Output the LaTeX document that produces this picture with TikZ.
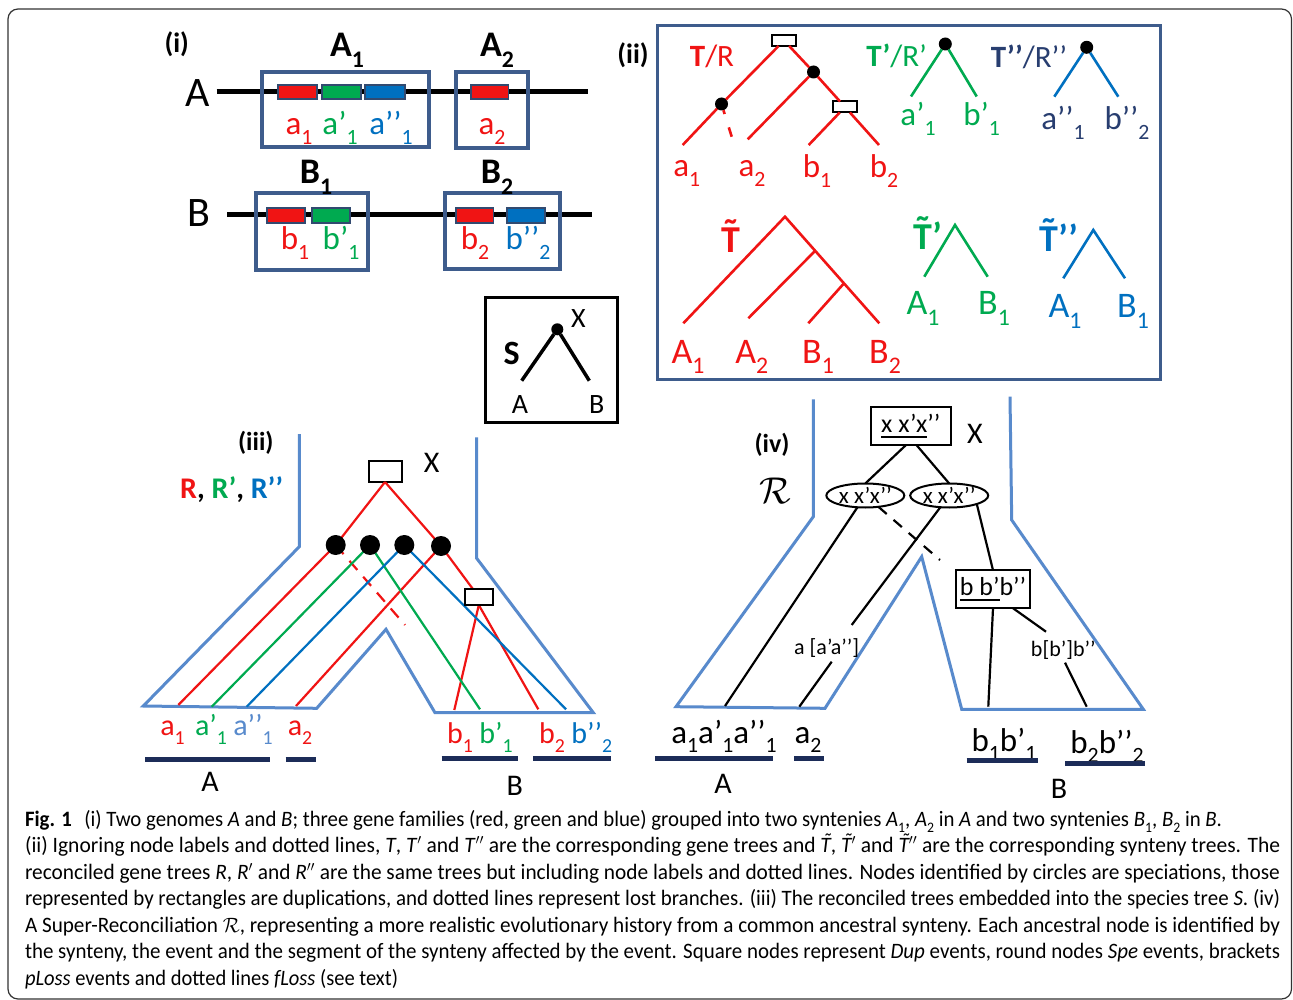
\documentclass[tikz,border=0pt]{standalone}
\usepackage{fontspec}
\setmainfont{Carlito}
\newfontfamily\capfont{Carlito}
\usetikzlibrary{shapes.geometric}
\definecolor{rd}{RGB}{240,20,20}
\definecolor{gr}{RGB}{0,170,80}
\definecolor{bl}{RGB}{0,112,192}
\definecolor{nv}{RGB}{40,62,112}
\definecolor{slate}{RGB}{62,92,140}
\definecolor{sp}{RGB}{88,138,204}
\definecolor{ulc}{RGB}{28,44,88}
\newcommand{\sbs}[1]{\raisebox{-0.3em}{\scalebox{0.66}{#1}}}
\newcommand{\ulx}[1]{\setbox0\hbox{#1}\rlap{\rule[-5pt]{\wd0}{1.8pt}}\box0}
\newcommand{\tld}[1]{\ooalign{#1\cr\hidewidth\raisebox{0.2em}{\char"02DC}\hidewidth\cr}}
\newcommand{\tldi}[1]{\ooalign{#1\cr\hidewidth\raisebox{0.2em}{\char"02DC}\hidewidth\kern-0.15em\cr}}
\newlength{\capw}
\newcommand{\capline}[2]{\settowidth{\capw}{#2}\pgfmathsetmacro{\capsx}{#1/\capw}\scalebox{\capsx}[1]{#2}}
\begin{document}
\begin{tikzpicture}[x=1pt,y=-1pt,
  every node/.style={inner sep=0pt,outer sep=0pt},
  txt/.style={anchor=base,font=\fontsize{#1}{#1}\selectfont},
  btxt/.style={anchor=base,font=\fontsize{#1}{#1}\selectfont\bfseries},
  ctxt/.style={anchor=center,font=\fontsize{#1}{#1}\selectfont},
  synbox/.style={draw=slate,line width=4pt},
  gene/.style={draw=slate!80!black,line width=1.6pt},
  genome/.style={line width=5pt},
  tree/.style={line width=2.6pt},
  gline/.style={line width=2.2pt},
  spe/.style={circle,fill=black,minimum size=#1},
  dupbox/.style={draw,fill=white,line width=2pt},
  outline/.style={draw=sp,line width=3pt,line join=miter},
  ulbar/.style={draw=ulc,line width=4.5pt},
  capstyle/.style={anchor=base west,font=\capfont\fontsize{22}{26}\selectfont},
  elnode/.style={draw,ellipse,line width=2pt,fill=white,minimum width=78pt,minimum height=24pt,font=\fontsize{23}{23}\selectfont}
]
\fill[white] (0,0) rectangle (1293,1000);
\useasboundingbox (0,0) rectangle (1293,1000);
\draw[line width=1.2pt,black!80,rounded corners=10pt] (8,9) rectangle (1291.5,999);

% ---------------- (i)
\node[btxt=28] (lbi) at (176.7,53) {(i)};
\node[txt=42] (gA) at (198,106.7) {A};
\draw[genome] (216.7,91.5) -- (588,91.5);
\draw[synbox] (261.7,71.7) rectangle (429.3,146.7);
\draw[synbox] (456,71.7) rectangle (527.7,148.3);
\draw[gene,fill=rd] (277.7,85) rectangle (316.7,99);
\draw[gene,fill=gr] (321.7,85) rectangle (360.7,99);
\draw[gene,fill=bl] (365,85) rectangle (405,99);
\draw[gene,fill=rd] (471,85) rectangle (508.3,99);
\node[btxt=36] (hA1) at (347,57) {A\sbs{1}};
\node[btxt=36] (hA2) at (497,57) {A\sbs{2}};
\node[txt=33,rd] (ia1) at (299,135) {a\sbs{1}};
\node[txt=33,gr] (ia1p) at (340,135) {a’\sbs{1}};
\node[txt=33,bl] (ia1pp) at (391,135) {a’’\sbs{1}};
\node[txt=33,rd] (ia2) at (492,135) {a\sbs{2}};

\node[txt=42] (gB) at (199,226.7) {B};
\draw[genome] (227,215) -- (591.7,215);
\draw[synbox] (256,193.3) rectangle (368.3,270);
\draw[synbox] (444.7,193.3) rectangle (560,269.3);
\draw[gene,fill=rd] (266.7,208.3) rectangle (305,223);
\draw[gene,fill=gr] (311.7,208.3) rectangle (350,223);
\draw[gene,fill=rd] (456,208.3) rectangle (493.3,223);
\draw[gene,fill=bl] (506.7,208.3) rectangle (545,223);
\node[btxt=36] (hB1) at (316,184) {B\sbs{1}};
\node[btxt=36] (hB2) at (497,184) {B\sbs{2}};
\node[txt=33,rd] (ib1) at (295,250) {b\sbs{1}};
\node[txt=33,gr] (ib1p) at (341,250) {b’\sbs{1}};
\node[txt=33,rd] (ib2) at (475,250) {b\sbs{2}};
\node[txt=33,bl] (ib2pp) at (528,250) {b’’\sbs{2}};

% ---------------- (ii)
\node[btxt=28] (lbii) at (633,64) {(ii)};
\draw[draw=slate,line width=3pt] (657.3,26) rectangle (1160,379.3);
\node[txt=31,rd] (tR) at (712,67) {\textbf{T}/R};
\node[txt=31,gr] (tRp) at (896.7,67) {\textbf{T’}/R’};
\node[txt=31,nv] (tRpp) at (1029,68) {\textbf{T’’}/R’’};

\node[dupbox,minimum width=24pt,minimum height=11pt] (rR) at (784,40.5) {};
\node[spe=13pt] (s1) at (721.5,104) {};
\node[spe=13pt] (s2) at (813.5,72) {};
\node[dupbox,minimum width=24pt,minimum height=11pt] (d2) at (845,107) {};
\coordinate (la1) at (682.7,145);
\coordinate (la2) at (747.7,139.3);
\coordinate (lb1) at (808.7,145);
\coordinate (lb2) at (879,145);
\coordinate (ldash) at (731.7,136.7);
\draw[tree,rd] (rR) -- (s1) -- (la1);
\draw[tree,rd] (rR) -- (s2) -- (d2) -- (lb2);
\draw[tree,rd] (s2) -- (la2);
\draw[tree,rd] (d2) -- (lb1);
\draw[tree,rd,dash pattern=on 4pt off 14pt on 10pt off 20pt] (s1) -- (ldash);

\node[spe=13pt] (gs) at (945.3,44) {};
\coordinate (ga1) at (911,96.5);
\coordinate (gb1) at (976.7,96.5);
\draw[tree,gr] (gs) -- (ga1);
\draw[tree,gr] (gs) -- (gb1);
\node[spe=13pt] (bs) at (1086.7,47.3) {};
\coordinate (ba1) at (1054.3,96.7);
\coordinate (bb2) at (1118.3,96.7);
\draw[tree,bl] (bs) -- (ba1);
\draw[tree,bl] (bs) -- (bb2);

\node[txt=33,rd] (la1t) at (686.7,177) {a\sbs{1}};
\node[txt=33,rd] (la2t) at (752,177) {a\sbs{2}};
\node[txt=33,rd] (lb1t) at (817,178) {b\sbs{1}};
\node[txt=33,rd] (lb2t) at (884,178) {b\sbs{2}};
\node[txt=33,gr] (ga1t) at (918,126) {a’\sbs{1}};
\node[txt=33,gr] (gb1t) at (981.7,126) {b’\sbs{1}};
\node[txt=33,nv] (ba1t) at (1063,130) {a’’\sbs{1}};
\node[txt=33,nv] (bb2t) at (1127,130) {b’’\sbs{2}};

% synteny trees
\coordinate (sr) at (785,216.7);
\coordinate (sA1) at (683.3,323.3);
\coordinate (sB2) at (879.3,323.3);
\coordinate (sn1) at (815,251);
\coordinate (sn2) at (844,283.3);
\coordinate (sA2) at (748.3,318.3);
\coordinate (sB1) at (808.3,323.3);
\draw[tree,rd] (sA1) -- (sr) -- (sB2);
\draw[tree,rd] (sA2) -- (sn1);
\draw[tree,rd] (sB1) -- (sn2);
\coordinate (gr0) at (955,225);
\coordinate (grA) at (924.3,276.7);
\coordinate (grB) at (987.7,276.7);
\draw[tree,gr] (grA) -- (gr0) -- (grB);
\coordinate (bl0) at (1093.3,230);
\coordinate (blA) at (1063.3,278.3);
\coordinate (blB) at (1125,278.3);
\draw[tree,bl] (blA) -- (bl0) -- (blB);

\node[btxt=38,rd] (tt) at (730.8,253) {\tld{T}};
\node[btxt=38,gr] (ttp) at (927.5,250) {\tld{T}’};
\node[btxt=38,bl] (ttpp) at (1059,251.7) {\tld{T}’’};

\node[txt=36,rd] (sA1t) at (688,363) {A\sbs{1}};
\node[txt=36,rd] (sA2t) at (751.7,363) {A\sbs{2}};
\node[txt=36,rd] (sB1t) at (818,363) {B\sbs{1}};
\node[txt=36,rd] (sB2t) at (885,363) {B\sbs{2}};
\node[txt=36,gr] (grAt) at (923,315) {A\sbs{1}};
\node[txt=36,gr] (grBt) at (994,315) {B\sbs{1}};
\node[txt=36,bl] (blAt) at (1065,318) {A\sbs{1}};
\node[txt=36,bl] (blBt) at (1133,318) {B\sbs{1}};

% ---------------- species tree S
\draw[line width=3pt] (485,297.3) rectangle (617.7,422.7);
\node[spe=12pt] (sX) at (557.3,329.3) {};
\coordinate (sAl) at (521.7,380.7);
\coordinate (sBl) at (589.3,380.7);
\draw[line width=3.5pt] (sX) -- (sAl);
\draw[line width=3.5pt] (sX) -- (sBl);
\node[ctxt=28] (sXt) at (578.3,318.3) {X};
\node[ctxt=34,font=\fontsize{34}{34}\selectfont\bfseries] (sSt) at (511.7,353) {S};
\node[ctxt=28] (sAt) at (520,405) {A};
\node[ctxt=28] (sBt) at (596.7,405) {B};

% ---------------- (iii)
\node[ctxt=26,font=\fontsize{26}{26}\selectfont\bfseries] (lbiii) at (255.8,443) {(iii)};
\node[ctxt=30,font=\fontsize{30}{30}\selectfont\bfseries] (Rs) at (231.7,490) {\textcolor{rd}{R}, \textcolor{gr}{R’}, \textcolor{bl}{R’’}};
\draw[outline] (299.3,434) -- (299.3,546.7) -- (143.3,706) -- (316.7,708.3) -- (386,629.3) -- (435,712.7) -- (593.3,712.7) -- (476.7,558.3) -- (476.7,437.3);

\coordinate (c1) at (335.7,545);
\coordinate (c2) at (370,545);
\coordinate (c3) at (404.3,545);
\coordinate (c4) at (441,546);
\node[dupbox,minimum width=33pt,minimum height=21pt] (rX) at (385,471.5) {};
\node[dupbox,minimum width=28pt,minimum height=16pt] (r2) at (478.8,597) {};
\coordinate (ea1) at (178.3,705);
\coordinate (ea1p) at (211.7,706.7);
\coordinate (ea1pp) at (246.7,706.7);
\coordinate (ea2) at (296,706);
\coordinate (eb1) at (454.3,710);
\coordinate (eb1p) at (480,709.3);
\coordinate (eb2) at (538.3,709.3);
\coordinate (eb2pp) at (566,709.3);
\coordinate (elost) at (405,625);
\draw[gline,rd] (rX.south) -- (c1) -- (ea1);
\draw[gline,rd] (rX.south) -- (c4) -- (ea2);
\draw[gline,rd,dash pattern=on 12pt off 9pt] (c1) -- (elost);
\draw[gline,rd] (c4) -- (r2);
\draw[gline,rd] (r2.south) -- (eb1);
\draw[gline,rd] (r2.south) -- (eb2);
\draw[gline,gr] (ea1p) -- (c2) -- (eb1p);
\draw[gline,bl] (ea1pp) -- (c3) -- (eb2pp);
\node[spe=20pt] (n1) at (c1) {};
\node[spe=20pt] (n2) at (c2) {};
\node[spe=20pt] (n3) at (c3) {};
\node[spe=20pt] (n4) at (c4) {};
\node[dupbox,minimum width=28pt,minimum height=16pt] (r2b) at (r2) {};
\node[ctxt=30] (Xiii) at (431.7,463) {X};

\node[txt=30,rd] (ta1) at (172.5,735) {a\sbs{1}};
\node[txt=30,gr] (ta1p) at (211,735) {a’\sbs{1}};
\node[txt=30,sp] (ta1pp) at (253,735) {a’’\sbs{1}};
\node[txt=30,rd] (ta2) at (300,735) {a\sbs{2}};
\node[txt=30,rd] (tb1) at (460,743) {b\sbs{1}};
\node[txt=30,gr] (tb1p) at (496,743) {b’\sbs{1}};
\node[txt=30,rd] (tb2) at (552,743) {b\sbs{2}};
\node[txt=30,bl] (tb2pp) at (591.7,743) {b’’\sbs{2}};
\draw[ulbar] (145,759.3) -- (270,759.3);
\draw[ulbar] (285.7,759.3) -- (316,759.3);
\draw[ulbar] (441.7,758.3) -- (517.7,758.3);
\draw[ulbar] (533.3,758.3) -- (611,758.3);
\node[txt=30] (tA) at (210,791.7) {A};
\node[txt=30] (tB) at (514.7,795) {B};

% ---------------- (iv)
\node[ctxt=26,font=\fontsize{26}{26}\selectfont\bfseries] (lbiv) at (772,445) {(iv)};
\node[ctxt=24] (calR) at (775,491) {\scalebox{1.5}{$\mathcal{R}$}};
\draw[outline] (813.3,399.3) -- (813.3,516.7) -- (676,706.7) -- (825,708.3) -- (921.7,556.7) -- (961.7,709.3) -- (1143.3,709.3) -- (1011.7,520) -- (1010,396.7);

\node[draw,line width=2.2pt,fill=white,minimum width=80pt,minimum height=38pt,font=\fontsize{26}{26}\selectfont] (rt) at (910.7,426.3) {\ulx{x x’x}’’};
\node[ctxt=30] (Xiv) at (975,434) {X};
\node[elnode] (el1) at (865.3,495.5) {\makebox[30pt]{x x’x’’}};
\node[elnode] (el2) at (949.2,495.5) {\makebox[30pt]{x x’x’’}};
\node[draw,line width=2.2pt,fill=white,minimum width=74pt,minimum height=38pt,font=\fontsize{26}{26}\selectfont] (bb) at (993,589.2) {\ulx{b b’}b’’};
\node[ctxt=22] (pla) at (826.7,648.3) {a [a’a’’]};
\node[ctxt=22] (plb) at (1063.3,650) {b[b’]b’’};

\coordinate (fa1) at (725,706);
\coordinate (fa2) at (799.3,706.7);
\coordinate (fb1) at (988.3,706.7);
\coordinate (fb2) at (1086.7,706.7);
\coordinate (fl) at (940,560);
\coordinate (pa1) at (851.7,625);
\coordinate (pa2) at (831.7,661.7);
\coordinate (pb1) at (1046,631.7);
\coordinate (pb2) at (1065,662.7);
\draw[gline] ([xshift=-5pt]rt.south) -- (el1.north);
\draw[gline] ([xshift=6pt]rt.south) -- (el2.north);
\draw[gline] (el1) -- (fa1);
\draw[gline,dash pattern=on 11pt off 9pt] (el1) -- (fl);
\draw[gline] (el2) -- (pa1);
\draw[gline] (pa2) -- (fa2);
\draw[gline] (el2.south east) -- (bb.north);
\draw[gline] (bb.south) -- (fb1);
\draw[gline] ([xshift=20pt]bb.south) -- (pb1);
\draw[gline] (pb2) -- (fb2);

\node[txt=33] (fa1t) at (724,743) {a\sbs{1}a’\sbs{1}a’’\sbs{1}};
\node[txt=33] (fa2t) at (808,743) {a\sbs{2}};
\node[txt=33] (fb1t) at (1004,751) {b\sbs{1}b’\sbs{1}};
\node[txt=33] (fb2t) at (1107,753) {b\sbs{2}b’’\sbs{2}};
\draw[ulbar] (655,758.3) -- (773.3,758.3);
\draw[ulbar] (794,758.3) -- (824,758.3);
\draw[ulbar] (966.7,760.7) -- (1038.3,760.7);
\draw[ulbar] (1065,763.3) -- (1145,763.3);
\node[txt=30] (fA) at (723,793) {A};
\node[txt=30] (fB) at (1059,798) {B};

% ---------------- caption
\node[capstyle] (cap1) at (25,826) {\capline{1197}{\textbf{Fig. 1}\hspace{0.6em}(i) Two genomes \textit{A} and \textit{B}; three gene families (red, green and blue) grouped into two syntenies \textit{A}\sbs{1}, \textit{A}\sbs{2} in \textit{A} and two syntenies \textit{B}\sbs{1}, \textit{B}\sbs{2} in \textit{B}.}};
\node[capstyle] (cap2) at (25,852.5) {\capline{1255}{(ii) Ignoring node labels and dotted lines, \textit{T}, \textit{T}$'$ and \textit{T}$''$ are the corresponding gene trees and \textit{\tldi{T}}, \textit{\tldi{T}}$'$ and \textit{\tldi{T}}$''$ are the corresponding synteny trees. The}};
\node[capstyle] (cap3) at (25,879) {\capline{1255}{reconciled gene trees \textit{R}, \textit{R}$'$ and \textit{R}$''$ are the same trees but including node labels and dotted lines. Nodes identified by circles are speciations, those}};
\node[capstyle] (cap4) at (25,905.5) {\capline{1255}{represented by rectangles are duplications, and dotted lines represent lost branches. (iii) The reconciled trees embedded into the species tree \textit{S}. (iv)}};
\node[capstyle] (cap5) at (25,932) {\capline{1255}{A Super-Reconciliation $\mathcal{R}$, representing a more realistic evolutionary history from a common ancestral synteny. Each ancestral node is identified by}};
\node[capstyle] (cap6) at (25,958.5) {\capline{1255}{the synteny, the event and the segment of the synteny affected by the event. Square nodes represent \textit{Dup} events, round nodes \textit{Spe} events, brackets}};
\node[capstyle] (cap7) at (25,985) {\capline{373}{\textit{pLoss} events and dotted lines \textit{fLoss} (see text)}};
\end{tikzpicture}
\end{document}
